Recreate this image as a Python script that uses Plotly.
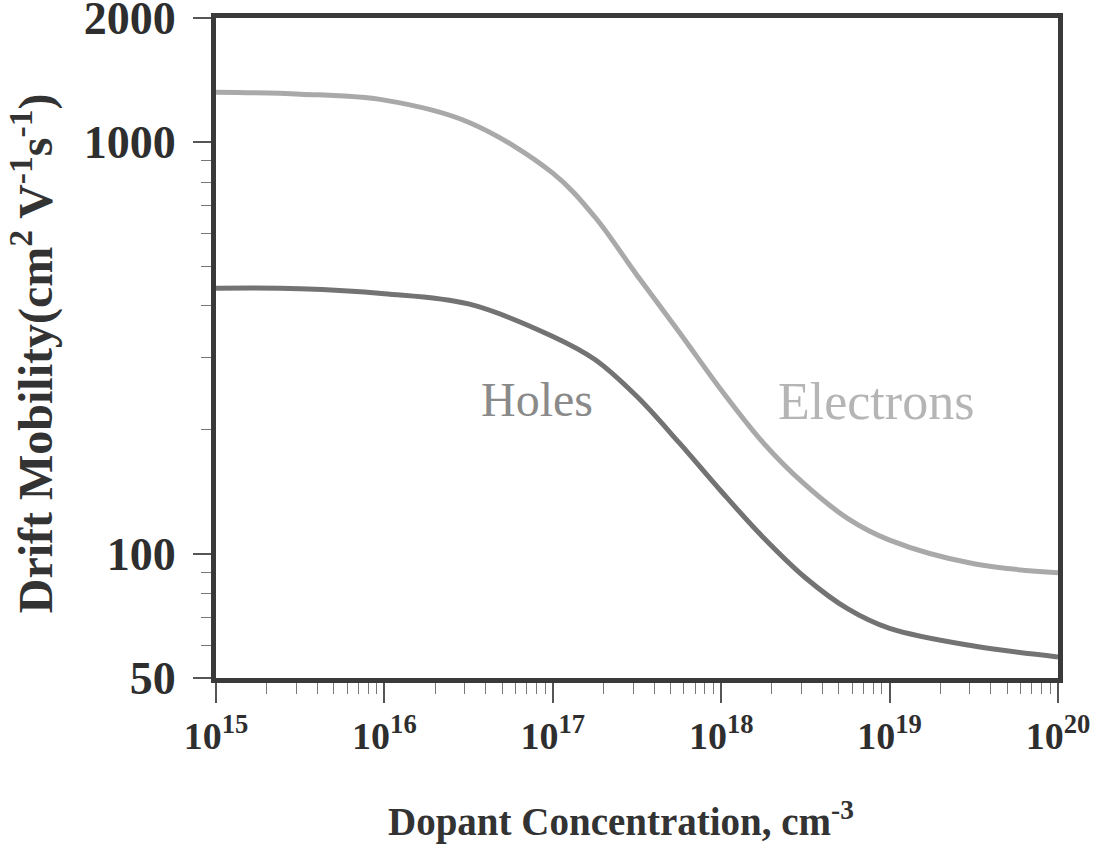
import plotly.graph_objects as go
import numpy as np

# Dopant concentration (cm^-3)
conc = [1e15, 10**15.5, 1e16, 10**16.5, 1e17, 10**17.25, 10**17.5, 10**17.75,
        1e18, 10**18.25, 10**18.5, 10**18.75, 1e19, 10**19.5, 1e20]
# Drift mobility (cm^2 V^-1 s^-1)
electrons = [1322, 1308, 1265, 1118, 841, 658, 475, 346, 250, 186, 147, 122, 108, 94.6, 90]
holes = [441.6, 440.6, 428.5, 404.6, 337.3, 296.5, 241, 186.2, 141.9, 109.6, 87.5, 73.6, 65.9, 59.7, 56.2]

x_tickvals = [1e15, 1e16, 1e17, 1e18, 1e19, 1e20]
x_ticktext = ["<b>10<sup>15</sup></b>", "<b>10<sup>16</sup></b>", "<b>10<sup>17</sup></b>",
              "<b>10<sup>18</sup></b>", "<b>10<sup>19</sup></b>", "<b>10<sup>20</sup></b>"]
y_tickvals = [50, 100, 1000, 2000]
y_ticktext = ["<b>50</b>", "<b>100</b>", "<b>1000</b>", "<b>2000</b>"]

FONT = "Liberation Serif"

fig = go.Figure()
fig.add_trace(go.Scatter(x=conc, y=electrons, mode="lines", name="Electrons",
                         line=dict(color="#a9a9a9", width=5, shape="spline", smoothing=1.0)))
fig.add_trace(go.Scatter(x=conc, y=holes, mode="lines", name="Holes",
                         line=dict(color="#737373", width=5, shape="spline", smoothing=1.0)))

fig.update_layout(
    width=1103, height=850,
    margin=dict(l=216, r=45, t=18, b=172, autoexpand=False),
    paper_bgcolor="white", plot_bgcolor="white",
    showlegend=False,
    font=dict(family=FONT, color="#333"),
)

fig.update_xaxes(
    type="log", range=[15, 20], automargin=False,
    tickvals=x_tickvals, ticktext=x_ticktext,
    tickfont=dict(size=38, family=FONT, color="#2e2e2e"),
    ticklabeloverflow="allow",
    showgrid=False, zeroline=False,
    showline=True, linewidth=5, linecolor="#3a3a3a", mirror=True,
    ticks="outside", ticklen=20, tickwidth=1.5, tickcolor="#555",
    minor=dict(ticks="outside", ticklen=11, tickwidth=1.2, tickcolor="#777",
               dtick="D1", showgrid=False),
)
fig.update_yaxes(
    type="log", range=[np.log10(50) - 0.0005, np.log10(2000) + 0.0005], automargin=False,
    tickvals=y_tickvals, ticktext=y_ticktext,
    tickfont=dict(size=46, family=FONT, color="#2e2e2e"),
    ticklabeloverflow="allow", ticklabelstandoff=8,
    showgrid=False, zeroline=False,
    showline=True, linewidth=5, linecolor="#3a3a3a", mirror=True,
    ticks="outside", ticklen=18, tickwidth=1.5, tickcolor="#555",
    minor=dict(ticks="outside", ticklen=10, tickwidth=1.2, tickcolor="#777",
               dtick="D1", showgrid=False),
)

fig.add_annotation(x=16.906, y=2.374, xref="x", yref="y", text="Holes",
                   showarrow=False, font=dict(size=48, family=FONT, color="#8a8a8a"))
fig.add_annotation(x=18.919, y=2.369, xref="x", yref="y", text="Electrons",
                   showarrow=False, font=dict(size=52, family=FONT, color="#b5b5b5"))

fig.add_annotation(x=0, y=0.492, xref="paper", yref="paper", xshift=-184,
                   text="<b>Drift Mobility(cm<sup>2</sup> V<sup>-1</sup>s<sup>-1</sup>)</b>",
                   textangle=-90, showarrow=False, xanchor="center", yanchor="middle",
                   font=dict(size=48, family=FONT, color="#333"))
fig.add_annotation(x=0.481, y=0, xref="paper", yref="paper", yshift=-141,
                   text="<b>Dopant Concentration, cm<sup>-3</sup></b>",
                   showarrow=False, xanchor="center", yanchor="middle",
                   font=dict(size=39, family=FONT, color="#333"))

fig.write_html("out.html", config={"displayModeBar": False},
               post_script="document.body.style.margin='0px';")
